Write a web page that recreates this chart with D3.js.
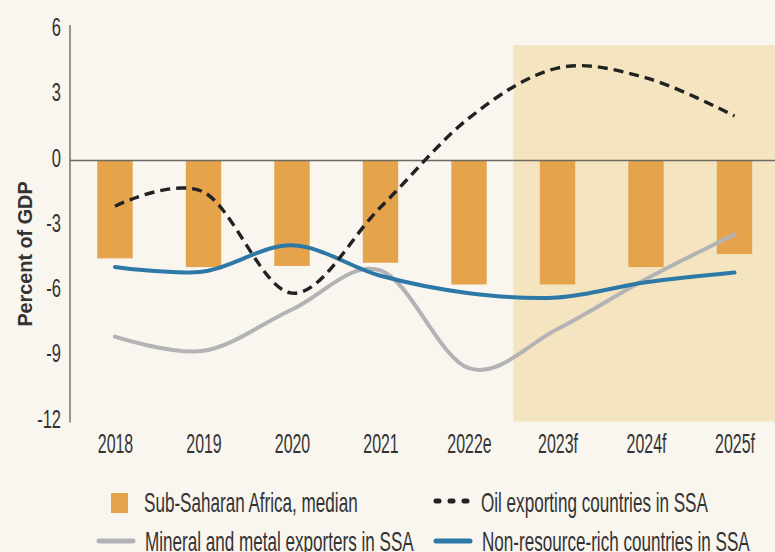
<!DOCTYPE html>
<html>
<head>
<meta charset="utf-8">
<script src="https://cdn.jsdelivr.net/npm/d3@7"></script>
<style>
  body { margin: 0; background: #f9f5ef; }
  svg { display: block; }
  text { font-family: "Liberation Sans", Arial, sans-serif; fill: #333; }
</style>
</head>
<body>
<svg width="775" height="552"></svg>
<script>
// data
var years = ["2018", "2019", "2020", "2021", "2022e", "2023f", "2024f", "2025f"];
var ssaMedian = [-4.5, -4.9, -4.85, -4.7, -5.7, -5.7, -4.9, -4.3];
var oilExporters = [-2.1, -1.45, -6.1, -2.15, 1.95, 4.25, 3.8, 2.05];
var mineralExporters = [-8.1, -8.75, -6.85, -5.05, -9.55, -7.75, -5.45, -3.4];
var nonResourceRich = [-4.9, -5.1, -3.9, -5.3, -6.1, -6.3, -5.6, -5.15];
var yTicks = [6, 3, 0, -3, -6, -9, -12];
var forecastFrom = "2023f";

var svg = d3.select("svg"),
    width = +svg.attr("width"),
    height = +svg.attr("height");

// the original uses a condensed face, so squash a regular one
function condense(sel, k) {
  sel.each(function() {
    var len = this.getComputedTextLength();
    d3.select(this).attr("textLength", len * k).attr("lengthAdjust", "spacingAndGlyphs");
  });
}

svg.append("rect").attr("width", width).attr("height", height).attr("fill", "#f9f5ef");

var x = d3.scalePoint().domain(years).range([70.75, 778.75]).padding(0.5);
var step = x.step();
var y = d3.scaleLinear().domain([-12, 6]).range([421.5, 30]);

// forecast shading
var shadeX = x(forecastFrom) - step / 2;
svg.append("rect")
    .attr("x", shadeX)
    .attr("y", y(5.3))
    .attr("width", width - shadeX)
    .attr("height", y(-12) - y(5.3))
    .attr("fill", "#f4e5c0");

// bars
svg.append("g").selectAll("rect")
    .data(ssaMedian)
    .enter().append("rect")
      .attr("x", function(d, i) { return x(years[i]) - step * 0.2; })
      .attr("width", step * 0.4)
      .attr("y", y(0))
      .attr("height", function(d) { return y(d) - y(0); })
      .attr("fill", "#e5a34c");

// zero line
svg.append("line")
    .attr("x1", 70).attr("x2", width)
    .attr("y1", y(0)).attr("y2", y(0))
    .attr("stroke", "#6e6a64").attr("stroke-width", 1.5);

// y axis
var yAxis = svg.append("g")
    .attr("transform", "translate(70,0)")
    .call(d3.axisLeft(y).tickValues(yTicks).tickSize(0).tickPadding(9).tickFormat(function(d) { return String(d); }));
yAxis.select(".domain").attr("stroke", "#555").attr("stroke-width", 1.2).attr("d", "M0," + (y(6) - 5) + "V" + (y(-12) + 1));
yAxis.selectAll("text")
    .attr("font-size", 25).attr("fill", "#333").attr("dy", "0.22em")
    .call(condense, 0.66);

// x axis labels
var xAxis = svg.append("g")
    .attr("transform", "translate(0," + (y(-12) + 2) + ")")
    .call(d3.axisBottom(x).tickSize(0).tickPadding(10));
xAxis.select(".domain").remove();
xAxis.selectAll("text")
    .attr("font-size", 27).attr("fill", "#333")
    .call(condense, 0.59);

// y title
svg.append("text")
    .attr("transform", "translate(32," + 254 + ") rotate(-90)")
    .attr("text-anchor", "middle")
    .attr("font-size", 20)
    .attr("font-weight", "bold")
    .attr("fill", "#222")
    .text("Percent of GDP")
    .call(condense, 0.99);

// lines
var line = d3.line()
    .x(function(d, i) { return x(years[i]); })
    .y(function(d) { return y(d); })
    .curve(d3.curveCardinal.tension(0));

svg.append("path").datum(mineralExporters)
    .attr("d", line).attr("fill", "none")
    .attr("stroke", "#b3b3b5").attr("stroke-width", 4).attr("stroke-linecap", "round");

svg.append("path").datum(nonResourceRich)
    .attr("d", line).attr("fill", "none")
    .attr("stroke", "#2c78a6").attr("stroke-width", 4).attr("stroke-linecap", "round");

svg.append("path").datum(oilExporters)
    .attr("d", line).attr("fill", "none")
    .attr("stroke", "#222").attr("stroke-width", 3.4)
    .attr("stroke-dasharray", "10,6");

// legend
var legend = svg.append("g");
legend.append("rect").attr("x", 111).attr("y", 493).attr("width", 17).attr("height", 20).attr("fill", "#e5a34c");
legend.append("line").attr("x1", 436).attr("x2", 470).attr("y1", 501).attr("y2", 501)
    .attr("stroke", "#222").attr("stroke-width", 5).attr("stroke-linecap", "round")
    .attr("stroke-dasharray", "3,11");
legend.append("line").attr("x1", 99).attr("x2", 133).attr("y1", 541).attr("y2", 541)
    .attr("stroke", "#b3b3b5").attr("stroke-width", 5).attr("stroke-linecap", "round");
legend.append("line").attr("x1", 436).attr("x2", 470).attr("y1", 541).attr("y2", 541)
    .attr("stroke", "#2c78a6").attr("stroke-width", 5).attr("stroke-linecap", "round");

var legendItems = [
  { label: "Sub-Saharan Africa, median", x: 144, y: 512 },
  { label: "Oil exporting countries in SSA", x: 481, y: 512 },
  { label: "Mineral and metal exporters in SSA", x: 145, y: 551 },
  { label: "Non-resource-rich countries in SSA", x: 482, y: 551 }
];
legend.selectAll("text.item")
    .data(legendItems)
    .enter().append("text")
      .attr("class", "item")
      .attr("x", function(d) { return d.x; })
      .attr("y", function(d) { return d.y; })
      .attr("font-size", 28)
      .attr("fill", "#2a2a2a")
      .text(function(d) { return d.label; })
      .call(condense, 0.61);
</script>
</body>
</html>
